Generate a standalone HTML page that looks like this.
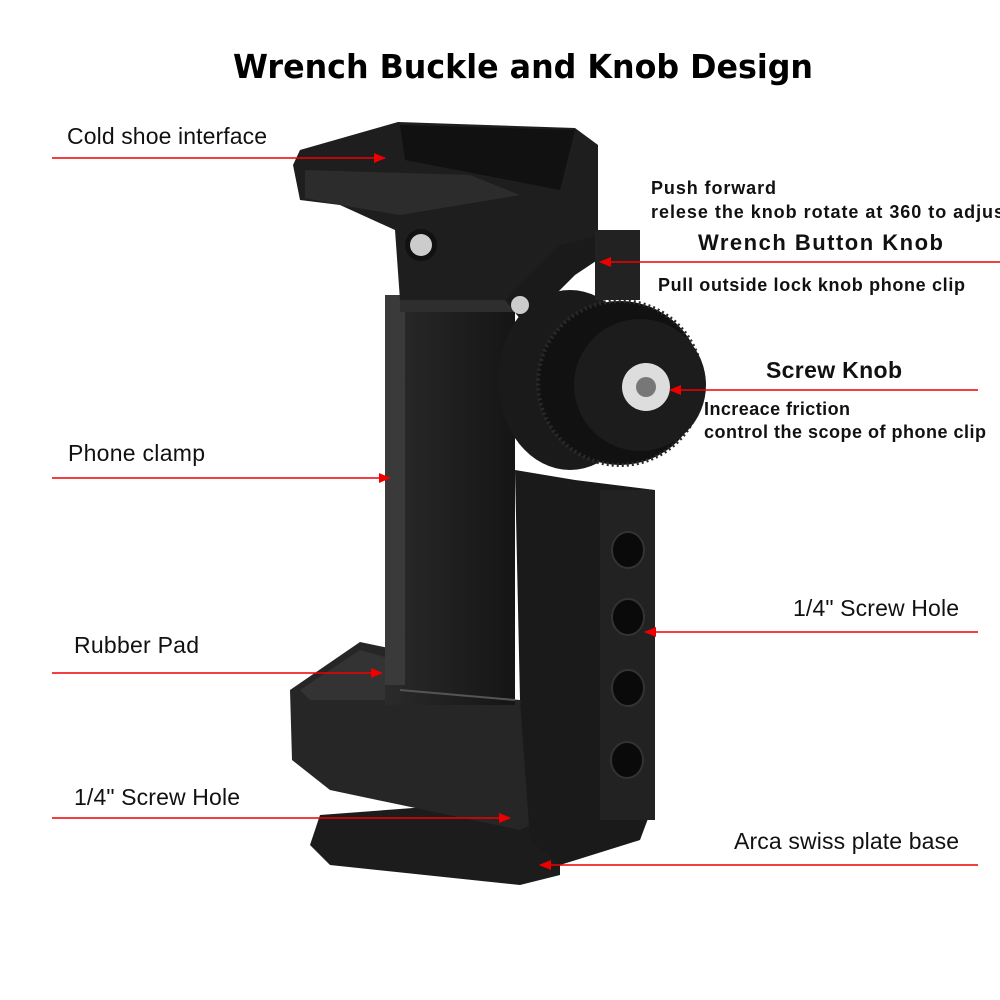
<!DOCTYPE html>
<html><head><meta charset="utf-8"><style>
html,body{margin:0;padding:0;background:#fff;}
svg{display:block;}
text{font-family:"Liberation Sans",sans-serif;}
.b{font-family:"DejaVu Sans","Liberation Sans",sans-serif;font-weight:bold;}
</style></head><body>
<svg width="1000" height="1000" viewBox="0 0 1000 1000" xmlns="http://www.w3.org/2000/svg">
<defs>
<marker id="ar" markerWidth="12" markerHeight="10" refX="11" refY="5" orient="auto" markerUnits="userSpaceOnUse">
<path d="M0,0 L12,5 L0,10 z" fill="#e00"/></marker>
<linearGradient id="g1" x1="0" x2="1"><stop offset="0" stop-color="#2a2a2a"/><stop offset="1" stop-color="#151515"/></linearGradient>
</defs>
<rect width="1000" height="1000" fill="#fff"/>
<text x="233" y="78" class="b" font-size="33" fill="#000" textLength="580" lengthAdjust="spacingAndGlyphs">Wrench Buckle and Knob Design</text>

<polygon points="320,815 520,800 560,820 560,875 520,885 330,865 310,845" fill="#1c1c1c"/>
<polygon points="290,690 360,642 398,650 398,690 520,700 540,820 520,830 330,790 292,760" fill="#262626"/>
<polygon points="300,690 360,650 395,660 395,700 310,700" fill="#333"/>
<rect x="385" y="295" width="130" height="410" fill="url(#g1)"/>
<rect x="385" y="295" width="20" height="390" fill="#3a3a3a"/>
<rect x="400" y="300" width="115" height="12" fill="#2e2e2e"/>
<line x1="400" y1="690" x2="515" y2="700" stroke="#555" stroke-width="2"/>
<polygon points="293,165 300,150 398,122 575,128 598,145 598,240 540,290 520,300 400,300 395,230 340,205 300,200" fill="#1e1e1e"/>
<polygon points="400,125 575,130 560,190 405,160" fill="#111"/>
<polygon points="305,170 470,175 520,195 400,215 340,205 305,198" fill="#2c2c2c"/>
<circle cx="421" cy="245" r="16" fill="#111"/><circle cx="421" cy="245" r="11" fill="#ccc"/>
<polygon points="515,470 575,480 655,490 655,800 640,840 560,865 530,840 520,700" fill="#1a1a1a"/>
<rect x="600" y="490" width="55" height="330" fill="#222"/>
<g fill="#0a0a0a" stroke="#333" stroke-width="2">
<ellipse cx="628" cy="550" rx="16" ry="18"/><ellipse cx="628" cy="617" rx="16" ry="18"/>
<ellipse cx="628" cy="688" rx="16" ry="18"/><ellipse cx="627" cy="760" rx="16" ry="18"/></g>
<ellipse cx="570" cy="380" rx="72" ry="90" fill="#1a1a1a"/>
<circle cx="620" cy="383" r="82" fill="#111" stroke="#2a2a2a" stroke-width="4" stroke-dasharray="2 3"/>
<circle cx="640" cy="385" r="66" fill="#1c1c1c"/>
<circle cx="646" cy="387" r="24" fill="#ddd"/><circle cx="646" cy="387" r="10" fill="#777"/>
<polygon points="505,300 560,245 600,235 605,255 575,275 525,325" fill="#1a1a1a"/>
<circle cx="520" cy="305" r="9" fill="#ccc"/>
<rect x="595" y="230" width="45" height="70" fill="#222"/>

<g stroke="#e00" stroke-width="1.5" marker-end="url(#ar)">
<line x1="52" y1="158" x2="385" y2="158"/>
<line x1="52" y1="478" x2="390" y2="478"/>
<line x1="52" y1="673" x2="382" y2="673"/>
<line x1="52" y1="818" x2="510" y2="818"/>
<line x1="1000" y1="262" x2="600" y2="262"/>
<line x1="978" y1="390" x2="670" y2="390"/>
<line x1="978" y1="632" x2="645" y2="632"/>
<line x1="978" y1="865" x2="540" y2="865"/>
</g>

<g font-size="23" fill="#111">
<text x="67" y="144" textLength="200">Cold shoe interface</text>
<text x="68" y="461" textLength="137">Phone clamp</text>
<text x="74" y="653" textLength="125">Rubber Pad</text>
<text x="74" y="805" textLength="166">1/4" Screw Hole</text>
<text x="793" y="616" textLength="166">1/4" Screw Hole</text>
<text x="734" y="849" textLength="225">Arca swiss plate base</text>
</g>
<g class="b" fill="#111">
<text x="651" y="194" font-size="18" textLength="125">Push forward</text>
<text x="651" y="218" font-size="18" textLength="360">relese the knob rotate at 360 to adjust</text>
<text x="698" y="250" font-size="22" textLength="245">Wrench Button Knob</text>
<text x="658" y="291" font-size="18" textLength="307">Pull outside  lock knob phone clip</text>
<text x="766" y="378" font-size="23" textLength="136">Screw Knob</text>
<text x="704" y="415" font-size="18" textLength="146">Increace friction</text>
<text x="704" y="438" font-size="18" textLength="282">control the scope of phone clip</text>
</g>
</svg>
</body></html>
